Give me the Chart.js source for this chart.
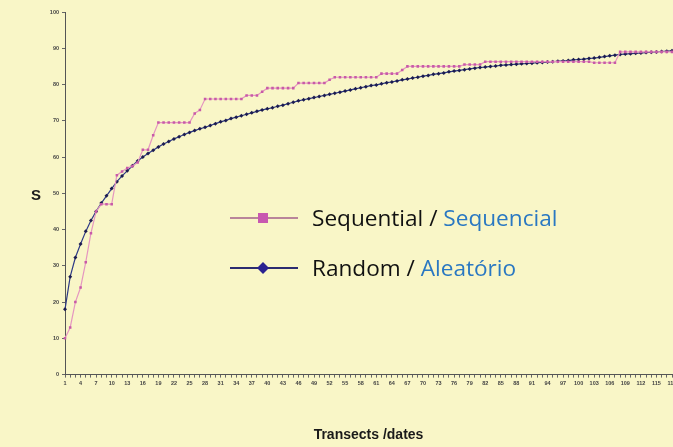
<!DOCTYPE html>
<html>
<head>
<meta charset="utf-8">
<script src="https://cdn.jsdelivr.net/npm/chart.js@4.4.1/dist/chart.umd.min.js"></script>
<style>
  html, body { margin: 0; padding: 0; background: #f9f6c7; overflow: hidden; }
  #wrap { position: relative; width: 673px; height: 447px; overflow: hidden; background: #f9f6c7; }
  #c { position: absolute; left: 0; top: 0; }
  .leg { position: absolute; left: 230px; font-family: "Open Sans", "Noto Sans", sans-serif; font-size: 22.6px; line-height: 26px; color: #111; display: flex; align-items: center; white-space: nowrap; }
  .leg .sw { position: relative; width: 68px; height: 12px; margin-right: 14px; }
  .leg .ln { position: absolute; left: 0; right: 0; top: 5px; height: 2px; }
  .leg .mk { position: absolute; left: 28px; top: 1px; width: 10px; height: 10px; }
  .leg .pt { color: #2a78c2; }
</style>
</head>
<body>
<div id="wrap">
  <canvas id="c" width="682" height="447"></canvas>
  <div class="leg" style="top:205px;">
    <span class="sw"><span class="ln" style="background:#b9859a"></span><span class="mk" style="background:#c858b0"></span></span>
    <span>Sequential / <span class="pt">Sequencial</span></span>
  </div>
  <div class="leg" style="top:255px;">
    <span class="sw"><span class="ln" style="background:#2c2c70"></span><span class="mk" style="background:#2a2290;transform:rotate(45deg) scale(0.85);"></span></span>
    <span>Random / <span class="pt">Aleatório</span></span>
  </div>
</div>
<script>
// Categories: transects / dates
const transects = [];
for (let i = 1; i <= 118; i++) transects.push(String(i));

// Cumulative species (S) — sequential order
const sequential = [
  10, 13, 20, 24, 31, 39, 45, 47, 47, 47,
  55, 56, 57, 57.5, 58.5, 62, 62, 66, 69.5, 69.5,
  69.5, 69.5, 69.5, 69.5, 69.5, 72, 73, 76, 76, 76,
  76, 76, 76, 76, 76, 77, 77, 77, 78, 79,
  79, 79, 79, 79, 79, 80.4, 80.4, 80.4, 80.4, 80.4,
  80.4, 81.3, 82, 82, 82, 82, 82, 82, 82, 82,
  82, 83, 83, 83, 83, 84, 85, 85, 85, 85,
  85, 85, 85, 85, 85, 85, 85, 85.5, 85.5, 85.5,
  85.5, 86.3, 86.3, 86.3, 86.3, 86.3, 86.3, 86.3, 86.3, 86.3,
  86.3, 86.3, 86.3, 86.3, 86.3, 86.3, 86.3, 86.3, 86.3, 86.3,
  86.3, 86.3, 86, 86, 86, 86, 86, 89, 89, 89,
  89, 89, 89, 89, 89, 89, 89, 89
];

// Cumulative species (S) — random order
const random = [
  18, 27, 32.3, 36, 39.5, 42.5, 45, 47.3, 49.3, 51.3,
  53.2, 54.8, 56.2, 57.6, 58.9, 60, 61, 61.9, 62.8, 63.6,
  64.3, 65, 65.6, 66.2, 66.8, 67.3, 67.8, 68.2, 68.7, 69.2,
  69.7, 70.1, 70.6, 71, 71.4, 71.8, 72.2, 72.6, 73, 73.3,
  73.6, 74, 74.3, 74.7, 75.1, 75.5, 75.8, 76.1, 76.4, 76.7,
  77, 77.3, 77.6, 77.9, 78.2, 78.5, 78.8, 79.1, 79.4, 79.7,
  79.9, 80.2, 80.5, 80.7, 81, 81.3, 81.5, 81.8, 82, 82.3,
  82.5, 82.8, 83, 83.2, 83.5, 83.7, 83.9, 84.1, 84.3, 84.5,
  84.7, 84.8, 85, 85.1, 85.3, 85.4, 85.5, 85.6, 85.7, 85.8,
  85.9, 86, 86.1, 86.2, 86.3, 86.4, 86.5, 86.6, 86.8, 86.9,
  87, 87.2, 87.3, 87.5, 87.7, 87.9, 88.1, 88.3, 88.4, 88.5,
  88.6, 88.7, 88.8, 88.9, 89, 89.1, 89.2, 89.3
];

const yTitle = 'S';
const xTitle = 'Transects /dates';

const yTitlePlugin = {
  id: 'yTitleUpright',
  afterDraw(chart) {
    const { ctx, chartArea } = chart;
    ctx.save();
    ctx.font = 'bold 15px "Liberation Sans", Arial, sans-serif';
    ctx.fillStyle = '#1a1a1a';
    ctx.textAlign = 'center';
    ctx.textBaseline = 'middle';
    ctx.fillText(yTitle, chartArea.left - 29, (chartArea.top + chartArea.bottom) / 2 + 3);
    ctx.restore();
  }
};

const tickFont = { family: '"Liberation Sans", Arial, sans-serif', size: 5.5, weight: 'bold' };

new Chart(document.getElementById('c'), {
  type: 'line',
  data: {
    labels: transects,
    datasets: [
      {
        label: 'Sequential / Sequencial',
        data: sequential,
        borderColor: '#e596c0',
        borderWidth: 1.2,
        backgroundColor: '#c85aa8',
        pointStyle: 'rect',
        pointRadius: 1.8,
        pointBorderWidth: 0,
        tension: 0
      },
      {
        label: 'Random / Aleatório',
        data: random,
        borderColor: '#2e3a86',
        borderWidth: 1.2,
        backgroundColor: '#1c1c50',
        pointStyle: 'rectRot',
        pointRadius: 2,
        pointBorderWidth: 0,
        tension: 0
      }
    ]
  },
  options: {
    responsive: false,
    animation: false,
    layout: { padding: { top: 12, right: 10, bottom: 0, left: 0 } },
    plugins: {
      legend: { display: false },
      tooltip: { enabled: false }
    },
    scales: {
      x: {
        offset: false,
        border: { display: true, color: '#555', width: 1 },
        grid: { display: true, drawOnChartArea: false, drawTicks: true, tickLength: 3, color: '#666' },
        ticks: {
          autoSkip: false,
          maxRotation: 0,
          minRotation: 0,
          padding: 3,
          color: '#444',
          font: tickFont,
          callback: function (v, i) { return i % 3 === 0 ? this.getLabelForValue(v) : ''; }
        },
        title: {
          display: true,
          text: xTitle,
          color: '#1a1a1a',
          font: { family: '"Liberation Sans", Arial, sans-serif', size: 14, weight: 'bold' },
          padding: { top: 37, bottom: 3 }
        }
      },
      y: {
        min: 0,
        max: 100,
        border: { display: true, color: '#555', width: 1 },
        grid: { display: true, drawOnChartArea: false, drawTicks: true, tickLength: 3, color: '#666' },
        ticks: { stepSize: 10, padding: 3, color: '#444', font: tickFont },
        afterFit(scale) { scale.width = 65; }
      }
    }
  },
  plugins: [yTitlePlugin]
});
</script>
</body>
</html>
